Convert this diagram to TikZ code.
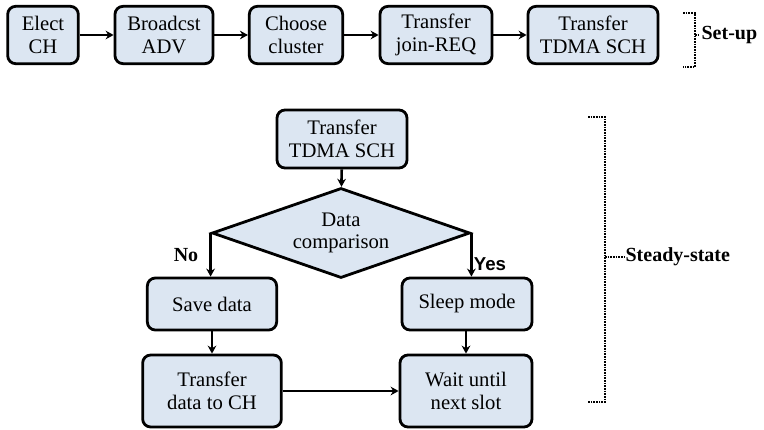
\documentclass[tikz,border=0pt]{standalone}
\usepackage{fontspec}
\setmainfont{Liberation Serif}
\newfontfamily\labelsans{Liberation Sans}
\usepackage{xcolor}
\usepackage{tikz}
\usetikzlibrary{calc,arrows.meta,shapes.geometric}

\definecolor{boxfill}{RGB}{220,230,242}

\begin{document}
\begin{tikzpicture}[
        x=0.75pt, y=-0.75pt,
        font=\rmfamily\fontsize{15.5}{17}\selectfont,
        box/.style = {draw, rectangle, rounded corners=6pt, fill=boxfill, line width=2.1pt,
                      align=center, inner sep=2pt, minimum height=43pt},
        decision/.style = {draw, diamond, fill=boxfill, line width=2.1pt, align=center,
                           inner sep=0pt, shape aspect=2.87, minimum width=193.5pt, minimum height=67.5pt},
        arrow/.style = {-{Stealth[length=6pt,width=6.5pt]}, line width=2pt},
        brace/.style = {dash pattern=on 1.2pt off 0.8pt, line width=2pt},
        tag/.style = {font=\rmfamily\fontsize{15}{17}\selectfont\bfseries}
    ]
    \useasboundingbox (0,0) rectangle (764,429);

    % Set-up row
    \node[box, minimum width=53pt] (elect) at (43,35) {Elect\\CH};
    \node[box, minimum width=73.5pt] (bcast) at (164,35) {Broadcst\\ADV};
    \node[box, minimum width=70pt] (choose) at (296,35) {Choose\\cluster};
    \node[box, minimum width=84pt] (join) at (436,35) {Transfer\\join-REQ};
    \node[box, minimum width=97.5pt] (sched) at (593,35) {Transfer\\TDMA SCH};

    \draw[arrow] (elect) -- (bcast);
    \draw[arrow] (bcast) -- (choose);
    \draw[arrow] (choose) -- (join);
    \draw[arrow] (join) -- (sched);

    % Steady-state flow
    \node[box, minimum width=97.5pt, minimum height=43.5pt] (sched2) at (342,139) {Transfer\\TDMA SCH};
    \node[decision] (cmp) at (341,233) {Data\\comparison};
    \node[box, minimum width=97pt, minimum height=39pt] (save) at (212,304) {Save data};
    \node[box, minimum width=104pt, minimum height=54pt] (xfer) at (212,391) {Transfer\\data to CH};
    \node[box, minimum width=97.5pt, minimum height=39pt] (sleep) at (467,304) {Sleep mode};
    \node[box, minimum width=99pt, minimum height=54pt] (wait) at (466,391) {Wait until\\next slot};

    \draw[arrow] (sched2) -- (cmp);
    \draw[arrow] (cmp.west) -- (cmp.west |- save.north);
    \draw[arrow] (cmp.east) -- (cmp.east |- sleep.north);
    \draw[arrow] (save) -- (xfer);
    \draw[arrow] (sleep.south -| wait.north) -- (wait);
    \draw[arrow] (xfer) -- (xfer -| wait.west);

    \node[tag] (no) at (186,255) {No};
    \node[tag, font=\fontsize{14}{16}\selectfont\bfseries\labelsans] (yes) at (490,264) {Yes};

    % Brackets
    \coordinate (sa) at (683,13);
    \coordinate (sb) at (695,13);
    \coordinate (sc) at (695,67);
    \coordinate (sd) at (683,67);
    \draw[brace] (sa) -- (sb) -- (sc) -- (sd);
    \node[tag, anchor=west, inner sep=1pt] (setup) at (700,35) {Set-up};
    \draw[brace] (695,35) -- (setup.west);

    \coordinate (ta) at (588,117);
    \coordinate (tb) at (605,117);
    \coordinate (tc) at (605,402);
    \coordinate (td) at (588,402);
    \draw[brace] (ta) -- (tb) -- (tc) -- (td);
    \node[tag, anchor=west, inner sep=1pt] (steady) at (624,257) {Steady-state};
    \draw[brace] (605,257) -- (steady.west);

\end{tikzpicture}
\end{document}
